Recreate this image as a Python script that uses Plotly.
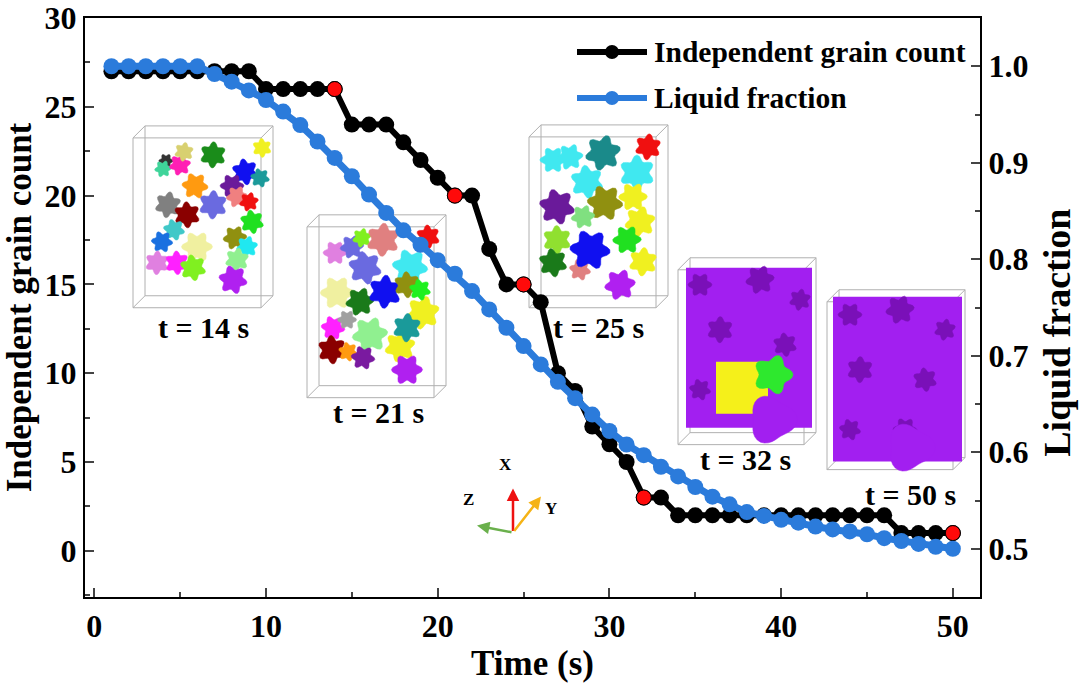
import math
import plotly.graph_objects as go

# ---------------- data ----------------
time_s = list(range(1, 51))
grain_count = [27, 27, 27, 27, 27, 27, 27, 27, 27,
               26, 26, 26, 26, 26,
               24, 24, 24, 23, 22, 21, 20, 20, 17, 15, 15, 14,
               10, 9, 7, 6, 5, 3, 3,
               2, 2, 2, 2, 2, 2, 2, 2, 2, 2, 2, 2, 2,
               1, 1, 1, 1]
liquid_fraction = [1.0, 1.0, 1.0, 1.0, 1.0, 1.0,
                   0.992, 0.984, 0.975, 0.965, 0.953, 0.939, 0.922, 0.905,
                   0.886, 0.867, 0.848, 0.830, 0.815, 0.799, 0.785, 0.767,
                   0.748, 0.729, 0.710, 0.691, 0.673, 0.656, 0.639, 0.622,
                   0.608, 0.597, 0.585, 0.575, 0.564, 0.554, 0.546, 0.538,
                   0.534, 0.530, 0.527, 0.523, 0.520, 0.518, 0.515, 0.511,
                   0.508, 0.505, 0.502, 0.500]
snapshot_times = [14, 21, 25, 32, 50]
snapshot_labels = ["t = 14 s", "t = 21 s", "t = 25 s", "t = 32 s", "t = 50 s"]
x_ticks = [0, 10, 20, 30, 40, 50]
y_ticks = [0, 5, 10, 15, 20, 25, 30]
y2_ticks = [0.5, 0.6, 0.7, 0.8, 0.9, 1.0]

FONT = "Liberation Serif"
BLUE = "#2B7BDB"

W, H = 1080, 689
PL, PR, PT, PB = 85, 980, 18, 597.5


def px(x):
    return (x - PL) / (PR - PL)


def py(y):
    return (PB - y) / (PB - PT)


shapes = []
annotations = []


def blob(cx, cy, r, color, lobes=6, amp=0.2, rot=0.0):
    pts = []
    for k in range(40):
        th = 2 * math.pi * k / 40
        rr = r * (1 + amp * math.cos(lobes * th + rot))
        pts.append((px(cx + rr * math.cos(th)), py(cy + rr * math.sin(th))))
    path = "M " + " L ".join(f"{a:.5f},{b:.5f}" for a, b in pts) + " Z"
    shapes.append(dict(type="path", xref="paper", yref="paper", path=path,
                       fillcolor=color, line=dict(color=color, width=0.5),
                       layer="below"))


def prect(x0, y0, x1, y1, color):
    shapes.append(dict(type="rect", xref="paper", yref="paper",
                       x0=px(x0), x1=px(x1), y0=py(y1), y1=py(y0),
                       fillcolor=color, line=dict(color=color, width=0),
                       layer="below"))


def wire_box(x0, y0, x1, y1, d=12):
    g = dict(color="#b0b0b0", width=1)
    fx0, fy0, fx1, fy1 = x0, y0 + d, x1 - d, y1
    bx0, by0, bx1, by1 = x0 + d, y0, x1, y1 - d
    for (a0, b0, a1, b1) in [(fx0, fy0, fx1, fy1), (bx0, by0, bx1, by1)]:
        shapes.append(dict(type="rect", xref="paper", yref="paper",
                           x0=px(a0), x1=px(a1), y0=py(b1), y1=py(b0),
                           line=g, layer="below"))
    for (a, b, c, e) in [(fx0, fy0, bx0, by0), (fx1, fy0, bx1, by0),
                         (fx0, fy1, bx0, by1), (fx1, fy1, bx1, by1)]:
        shapes.append(dict(type="line", xref="paper", yref="paper",
                           x0=px(a), y0=py(b), x1=px(c), y1=py(e),
                           line=g, layer="below"))


# ---------------- decorative 3D snapshot insets ----------------
wire_box(133, 126, 273, 308)
g14 = [(166, 161, 6, "#333333"), (163, 169, 7, "#3fd49a"), (180, 165, 9, "#ff1fb4"),
       (184, 152, 8, "#d8d070"), (213, 155, 11, "#1a8c1a"), (262, 148, 8, "#f0f020"),
       (245, 172, 11, "#1010f0"), (260, 178, 8, "#1c9a9a"), (195, 186, 11, "#ff9a10"),
       (232, 186, 10, "#6a1a9a"), (237, 197, 9, "#f08080"), (249, 202, 8, "#f01010"),
       (168, 205, 11, "#808080"), (213, 205, 12, "#6a6ae0"), (187, 215, 11, "#8a0000"),
       (252, 222, 10, "#20e020"), (174, 230, 9, "#40c8c8"), (162, 242, 9, "#1a70e0"),
       (197, 247, 13, "#f0f0a0"), (235, 238, 10, "#909010"), (247, 247, 9, "#20e8f0"),
       (237, 260, 10, "#90f090"), (157, 263, 10, "#e080e0"), (177, 263, 10, "#ff20ff"),
       (193, 268, 11, "#80f020"), (233, 280, 12, "#b020f0")]
for i, (cx, cy, r, c) in enumerate(g14):
    blob(cx, cy, r, c, rot=i * 0.7)

wire_box(307, 215, 446, 398)
g21 = [(335, 253, 10, "#e080e0"), (352, 247, 10, "#6a6ae0"), (362, 238, 8, "#80f020"),
       (383, 240, 14, "#e08080"), (428, 237, 10, "#f01010"), (365, 268, 14, "#6a6ae0"),
       (410, 267, 15, "#40e8f0"), (337, 293, 14, "#f0f0a0"), (360, 302, 12, "#1a7a1a"),
       (423, 313, 14, "#f0f020"), (385, 292, 14, "#1010f0"), (407, 285, 11, "#909010"),
       (420, 290, 9, "#20f020"), (333, 328, 10, "#ff20ff"), (347, 320, 8, "#a0a0a0"),
       (370, 335, 15, "#90f090"), (400, 347, 13, "#f0f020"), (407, 328, 12, "#1a9a9a"),
       (332, 350, 12, "#8a0000"), (348, 352, 8, "#ff9a10"), (363, 358, 10, "#7a1aa0"),
       (407, 370, 13, "#b020f0")]
for i, (cx, cy, r, c) in enumerate(g21):
    blob(cx, cy, r, c, rot=i * 0.9)

wire_box(529, 125, 668, 308)
g25 = [(553, 160, 11, "#40e8f0"), (570, 157, 11, "#40e8f0"), (603, 153, 15, "#1a8a8a"),
       (648, 147, 11, "#f01010"), (637, 173, 15, "#40e8f0"), (587, 182, 14, "#40e8f0"),
       (557, 207, 15, "#6a1a9a"), (605, 203, 15, "#909010"), (633, 197, 12, "#f0f020"),
       (583, 217, 10, "#80e080"), (640, 222, 13, "#f0f020"), (643, 262, 12, "#f0f020"),
       (557, 240, 12, "#90e030"), (553, 263, 12, "#1a7a1a"), (580, 270, 9, "#e08080"),
       (590, 250, 17, "#1010f0"), (627, 240, 12, "#20e020"), (620, 285, 13, "#b020f0")]
for i, (cx, cy, r, c) in enumerate(g25):
    blob(cx, cy, r, c, rot=i * 0.8)

PURPLE = "#a21ff0"
DPURPLE = "#7a10b8"
wire_box(678, 258, 816, 445)
prect(686, 268, 812, 428, PURPLE)
for i, (cx, cy, r) in enumerate([(700, 285, 10), (760, 280, 12), (800, 300, 9),
                                  (720, 330, 11), (785, 345, 10), (700, 390, 9)]):
    blob(cx, cy, r, DPURPLE, rot=i)
prect(716, 362, 768, 414, "#f5f01a")
blob(773, 375, 17, "#2ee82e", lobes=5, amp=0.18)
blob(772, 420, 22, PURPLE, lobes=3, amp=0.15)

wire_box(827, 290, 965, 470)
prect(833, 297, 962, 462, PURPLE)
for i, (cx, cy, r) in enumerate([(850, 315, 10), (900, 310, 12), (945, 330, 9),
                                  (860, 370, 11), (925, 380, 10), (850, 430, 9),
                                  (905, 430, 10)]):
    blob(cx, cy, r, DPURPLE, rot=i)
blob(910, 448, 22, PURPLE, lobes=3, amp=0.15)

label_pos = [(203, 328), (378, 413), (598, 328), (745, 460), (910, 495)]
for txt, (lx, ly) in zip(snapshot_labels, label_pos):
    annotations.append(dict(x=px(lx), y=py(ly), xref="paper", yref="paper",
                            text=txt, showarrow=False, xanchor="center", yanchor="middle",
                            font=dict(family=FONT, size=30, color="black", weight="bold")))

# ---------------- coordinate triad ----------------
ox, oy = 513, 533
for (tx, ty, col) in [(513, 489, "#ee1111"), (541, 497, "#f5b316"), (477, 526, "#6ab04c")]:
    annotations.append(dict(x=px(tx), y=py(ty), xref="paper", yref="paper", text="",
                            showarrow=True, ax=ox - tx, ay=oy - ty, axref="pixel", ayref="pixel",
                            arrowhead=2, arrowsize=1.0, arrowwidth=2.5, arrowcolor=col))
for (t, lx, ly) in [("X", 505, 476), ("Y", 551, 520), ("Z", 468, 511)]:
    annotations.append(dict(x=px(lx), y=py(ly), xref="paper", yref="paper", text=t,
                            showarrow=False,
                            font=dict(family=FONT, size=17, color="black", weight="bold")))

# ---------------- custom legend ----------------
legend_rows = [("Independent grain count", "black", 52), ("Liquid fraction", BLUE, 98)]
for name, col, ly in legend_rows:
    shapes.append(dict(type="line", xref="paper", yref="paper", x0=px(577), x1=px(647),
                       y0=py(ly), y1=py(ly), line=dict(color=col, width=6)))
    shapes.append(dict(type="circle", xref="paper", yref="paper",
                       x0=px(605), x1=px(619), y0=py(ly + 7), y1=py(ly - 7),
                       fillcolor=col, line=dict(color=col, width=0)))
    annotations.append(dict(x=px(652), y=py(ly), xref="paper", yref="paper", text=name,
                            showarrow=False, xanchor="left", yanchor="middle",
                            font=dict(family=FONT, size=29.5, color="black", weight="bold")))

# right axis title (placed as in the original, slightly below centre)
annotations.append(dict(x=px(1057), y=py(333), xref="paper", yref="paper",
                        text="Liquid fraction", textangle=-90, showarrow=False,
                        xanchor="center", yanchor="middle",
                        font=dict(family=FONT, size=38, color="black", weight="bold")))

# ---------------- traces ----------------
fig = go.Figure()
fig.add_trace(go.Scatter(x=time_s, y=grain_count, mode="lines+markers",
                         name="Independent grain count",
                         line=dict(color="black", width=6),
                         marker=dict(color="black", size=16), yaxis="y",
                         showlegend=False))
fig.add_trace(go.Scatter(x=snapshot_times,
                         y=[grain_count[time_s.index(t)] for t in snapshot_times],
                         mode="markers", showlegend=False,
                         marker=dict(color="#ff0a0a", size=15,
                                     line=dict(color="black", width=1)), yaxis="y"))
fig.add_trace(go.Scatter(x=time_s, y=liquid_fraction, mode="lines+markers",
                         name="Liquid fraction",
                         line=dict(color=BLUE, width=7),
                         marker=dict(color=BLUE, size=16), yaxis="y2",
                         showlegend=False))

tickfont = dict(family=FONT, size=32, color="black", weight="bold")
titlefont = dict(family=FONT, size=35, color="black", weight="bold")

fig.update_layout(
    width=W, height=H, autosize=False,
    margin=dict(l=PL, r=W - PR, t=PT, b=H - PB, autoexpand=False),
    paper_bgcolor="white", plot_bgcolor="rgba(0,0,0,0)",
    showlegend=False,
    shapes=shapes, annotations=annotations,
    xaxis=dict(range=[-0.54, 51.58], tickvals=x_ticks, ticks="inside", ticklen=9,
               tickwidth=2, showgrid=False, zeroline=False, showline=True,
               linecolor="black", linewidth=2, mirror=True, tickfont=tickfont,
               minor=dict(dtick=5, tick0=0, ticks="inside", ticklen=5, tickwidth=2,
                          showgrid=False),
               title=dict(text="Time (s)", font=titlefont, standoff=6)),
    yaxis=dict(range=[-2.6, 30], tickvals=y_ticks, ticks="inside", ticklen=9,
               tickwidth=2, showgrid=False, zeroline=False, showline=True,
               linecolor="black", linewidth=2, tickfont=tickfont,
               minor=dict(dtick=2.5, tick0=0, ticks="inside", ticklen=5, tickwidth=2,
                          showgrid=False),
               title=dict(text="Independent grain count", font=titlefont, standoff=8)),
    yaxis2=dict(range=[0.45, 1.05], tickvals=y2_ticks, tickformat=".1f",
                overlaying="y", side="right", ticks="inside", ticklen=9,
                tickwidth=2, showgrid=False, zeroline=False, showline=True,
                linecolor="black", linewidth=2, tickfont=tickfont,
                minor=dict(dtick=0.05, tick0=0, ticks="inside", ticklen=5, tickwidth=2,
                           showgrid=False)),
)

fig.write_html("out.html", config={"displayModeBar": False},
               post_script="document.body.style.margin='0';document.body.style.overflow='hidden';")
